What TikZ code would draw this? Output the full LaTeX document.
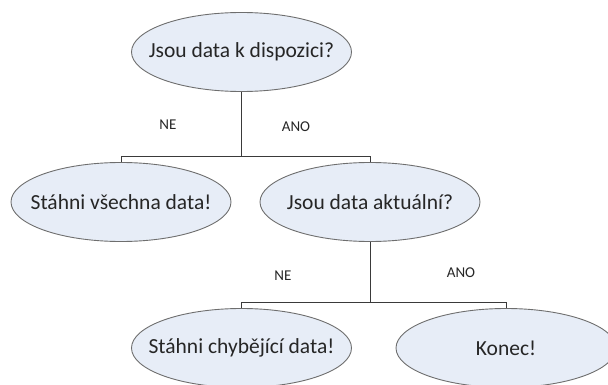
\documentclass[tikz,border=0pt]{standalone}
\usepackage{fontspec}
\setmainfont{Carlito}
\usetikzlibrary{shapes.geometric}
\definecolor{ellfill}{HTML}{E7EDF7}
\definecolor{elldraw}{HTML}{6E6E6E}
\definecolor{linecol}{HTML}{3A3A3A}
\newcommand{\fixw}[1]{\makebox[0pt]{#1}}
\tikzset{
  decision/.style={ellipse, draw=elldraw, fill=ellfill, line width=0.9pt,
    minimum width=220pt, minimum height=79pt, inner sep=0pt,
    font=\fontsize{21.5}{25}\selectfont, text=black!85},
  lbl/.style={font=\fontsize{15}{18}\selectfont, text=black!85, inner sep=0pt},
  conn/.style={draw=linecol, line width=0.9pt}
}
\begin{document}
\begin{tikzpicture}[x=1pt,y=-1pt]
\useasboundingbox (0,0) rectangle (608,385);
\node[decision] (top) at (241.5,52) {\fixw{Jsou data k dispozici?}};
\node[decision] (all) at (121,202) {\fixw{Stáhni všechna data!}};
\node[decision] (akt) at (370,202) {\fixw{Jsou data aktuální?}};
\node[decision] (miss) at (241.5,348) {\fixw{Stáhni chybějící data!}};
\node[decision] (end) at (506,348) {\fixw{Konec!}};
\coordinate (j1) at (241.5,156);
\coordinate (j2) at (370,302);
\draw[conn] (top.south) -- (j1);
\draw[conn] (all.north) |- (j1);
\draw[conn] (akt.north) |- (j1);
\draw[conn] (akt.south) -- (j2);
\draw[conn] (miss.north) |- (j2);
\draw[conn] (end.north) |- (j2);
\node[lbl] (ne1) at (168,125) {NE};
\node[lbl] (ano1) at (296,127) {ANO};
\node[lbl] (ne2) at (283,276) {NE};
\node[lbl] (ano2) at (461,273) {ANO};
\end{tikzpicture}
\end{document}
